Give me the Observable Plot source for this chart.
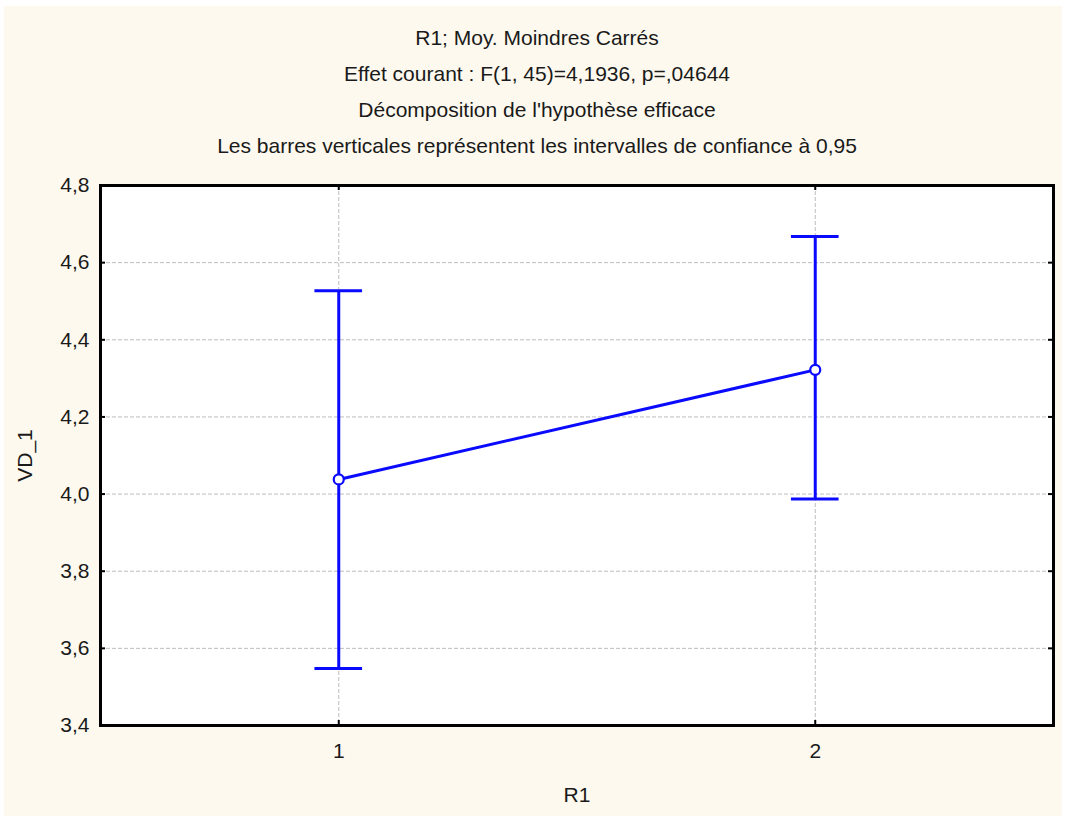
<!DOCTYPE html>
<html><head><meta charset="utf-8">
<script src="https://cdn.jsdelivr.net/npm/d3@7"></script>
<script src="https://cdn.jsdelivr.net/npm/@observablehq/plot@0.6"></script>
<style>
html,body{margin:0;padding:0;background:#fff;}
#wrap{position:relative;width:1067px;height:818px;overflow:hidden;font-family:"Liberation Sans",Arial,sans-serif;}
#bg{position:absolute;left:4px;top:6px;width:1058px;height:810px;background:#fdf9ee;}
#titles{position:absolute;left:0;top:20px;width:1074px;text-align:center;font-size:21px;line-height:36px;color:#1a1a1a;}
#chart{position:absolute;left:0;top:0;}
</style></head><body>
<div id="wrap"><div id="bg"></div><div id="titles"></div><div id="chart"></div></div>
<script>
const titleLines = [
  "R1; Moy. Moindres Carrés",
  "Effet courant : F(1, 45)=4,1936, p=,04644",
  "Décomposition de l'hypothèse efficace",
  "Les barres verticales représentent les intervalles de confiance à 0,95"
];
const groups = [1, 2];
const means = [4.038, 4.322];
const lower = [3.548, 3.987];
const upper = [4.527, 4.668];
const yTicks = [3.4, 3.6, 3.8, 4.0, 4.2, 4.4, 4.6, 4.8];
const yInner = [3.6, 3.8, 4.0, 4.2, 4.4, 4.6];
const xTicks = [1, 2];
const xLabel = "R1";
const yLabel = "VD_1";

const data = groups.map((g, i) => ({g, mean: means[i], lo: lower[i], hi: upper[i]}));

document.getElementById("titles").innerHTML = titleLines.map(t => `<div>${t}</div>`).join("");

const W = 1067, H = 818;
const mL = 100, mR = 14, mT = 185, mB = 93;
const frameW = W - mL - mR, frameH = H - mT - mB;
const blue = "#0a0aff";
const capHalf = 0.05;
const fmt = d => d3.format(".1f")(d).replace(".", ",");

const chart = Plot.plot({
  width: W, height: H,
  marginLeft: mL, marginRight: mR, marginTop: mT, marginBottom: mB,
  style: {background: "transparent", fontFamily: "'Liberation Sans', Arial, sans-serif", fontSize: "21px", color: "#1a1a1a"},
  x: {domain: [0.5, 2.5], ticks: xTicks},
  y: {domain: [3.4, 4.8], ticks: yTicks},
  marks: [
    Plot.frame({fill: "white", stroke: null}),
    Plot.ruleY(yInner, {stroke: "#bdbdbd", strokeWidth: 1, strokeDasharray: "4,2"}),
    Plot.ruleX(xTicks, {stroke: "#bdbdbd", strokeWidth: 1, strokeDasharray: "4,2"}),
    Plot.axisY(yTicks, {tickSize: 0, tickPadding: 11, tickFormat: fmt, fontSize: 21, label: null}),
    Plot.axisX(xTicks, {tickSize: 0, tickPadding: 18, tickFormat: d3.format("d"), fontSize: 21, label: null}),
    Plot.tickY(yInner, {y: d => d, stroke: "black", strokeWidth: 2, insetRight: frameW - 5}),
    Plot.tickY(yInner, {y: d => d, stroke: "black", strokeWidth: 2, insetLeft: frameW - 5}),
    Plot.tickX(xTicks, {x: d => d, stroke: "black", strokeWidth: 2, insetTop: frameH - 5}),
    Plot.tickX(xTicks, {x: d => d, stroke: "black", strokeWidth: 2, insetBottom: frameH - 5}),
    Plot.ruleX(data, {x: "g", y1: "lo", y2: "hi", stroke: blue, strokeWidth: 3}),
    Plot.ruleY(data, {y: "hi", x1: d => d.g - capHalf, x2: d => d.g + capHalf, stroke: blue, strokeWidth: 3}),
    Plot.ruleY(data, {y: "lo", x1: d => d.g - capHalf, x2: d => d.g + capHalf, stroke: blue, strokeWidth: 3}),
    Plot.line(data, {x: "g", y: "mean", stroke: blue, strokeWidth: 3}),
    Plot.dot(data, {x: "g", y: "mean", r: 5, fill: "white", stroke: blue, strokeWidth: 2.2}),
    Plot.frame({stroke: "black", strokeWidth: 3}),
    Plot.text([yLabel], {frameAnchor: "left", dx: -75, rotate: -90, text: d => d, fontSize: 21, fill: "#1a1a1a", textAnchor: "middle", lineAnchor: "middle"}),
    Plot.text([xLabel], {frameAnchor: "bottom", dy: 70, text: d => d, fontSize: 21, fill: "#1a1a1a", textAnchor: "middle", lineAnchor: "middle"})
  ]
});
document.getElementById("chart").appendChild(chart);
</script>
</body></html>
